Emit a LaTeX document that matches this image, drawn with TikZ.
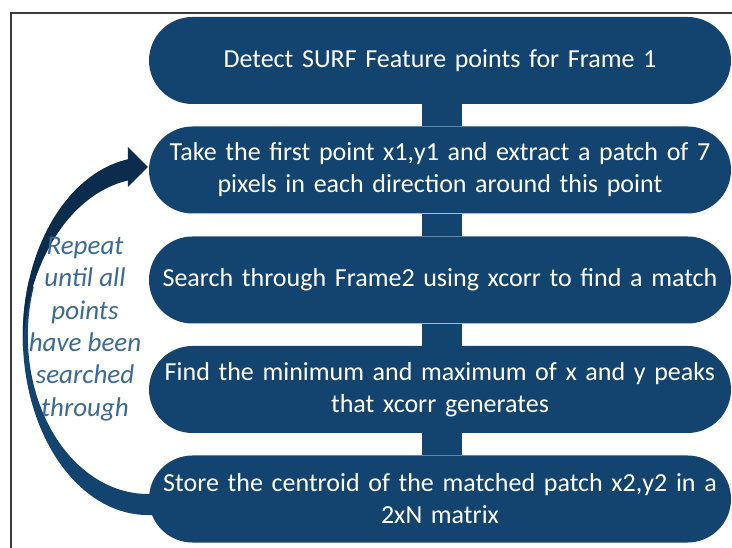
\documentclass[tikz,border=0pt]{standalone}
\usepackage{fontspec}
\setmainfont{Carlito}
\usetikzlibrary{backgrounds}
\definecolor{boxblue}{HTML}{13446F}
\definecolor{arrowdark}{HTML}{0B2C4C}
\definecolor{notecol}{HTML}{3A6B98}
\definecolor{framecol}{HTML}{3C3C3C}
\begin{document}
\begin{tikzpicture}[x=1pt,y=1pt,
  stepbox/.style={fill=boxblue, rounded corners=43.5pt, text=white,
    font=\fontsize{26}{32}\selectfont, align=center, text width=556pt,
    inner xsep=13pt, inner ysep=0pt, minimum height=87pt},
  link/.style={draw=boxblue, line width=40pt},
  note/.style={text=notecol, font=\fontsize{27}{32.4}\selectfont\itshape, align=center},
]
\useasboundingbox (0,0) rectangle (732,-548);

% process steps
\node[stepbox] (b1) at (440,-60.5) {Detect SURF Feature points for Frame 1};
\node[stepbox] (b2) at (440,-170) {Take the first point x1,y1 and extract a patch of 7\\pixels in each direction around this point};
\node[stepbox] (b3) at (440,-280) {Search through Frame2 using xcorr to find a match};
\node[stepbox] (b4) at (440,-389.5) {Find the minimum and maximum of x and y peaks\\that xcorr generates};
\node[stepbox] (b5) at (440,-499) {Store the centroid of the matched patch x2,y2 in a\\2xN matrix};

\node[note] (rep) at (85,-329) {Repeat\\until all\\points\\have been\\searched\\through};

\begin{scope}[on background layer]
  \fill[white] (0,0) rectangle (732,-548);
  % vertical links between steps
  \draw[link] ([xshift=2pt]b1.south) -- ([xshift=2pt]b2.north);
  \draw[link] ([xshift=2pt]b2.south) -- ([xshift=2pt]b3.north);
  \draw[link] ([xshift=2pt]b3.south) -- ([xshift=2pt]b4.north);
  \draw[link] ([xshift=2pt]b4.south) -- ([xshift=2pt]b5.north);
  % curved loop-back arrow from the last step to the second one
  \begin{scope}[shift={(b2.west)}]
    \fill[boxblue] (-119.9,-110.7)
      arc[start angle=162, end angle=270, x radius=125pt, y radius=179pt]
      -- (10,-345) -- (10,-324) -- (-1,-324)
      arc[start angle=270, end angle=162, x radius=120pt, y radius=158pt]
      -- cycle;
    \fill[arrowdark] (-21,10.7)
      arc[start angle=99.2, end angle=183.4, x radius=125pt, y radius=179pt]
      arc[start angle=176.6, end angle=99.2, x radius=125pt, y radius=179pt]
      -- (-21,-17) -- (-1,3) -- (-21,23) -- cycle;
  \end{scope}
\end{scope}

% outer frame
\draw[framecol, line width=1.5pt] (11,-560) -- (11,-13) -- (740,-13);
\end{tikzpicture}
\end{document}
